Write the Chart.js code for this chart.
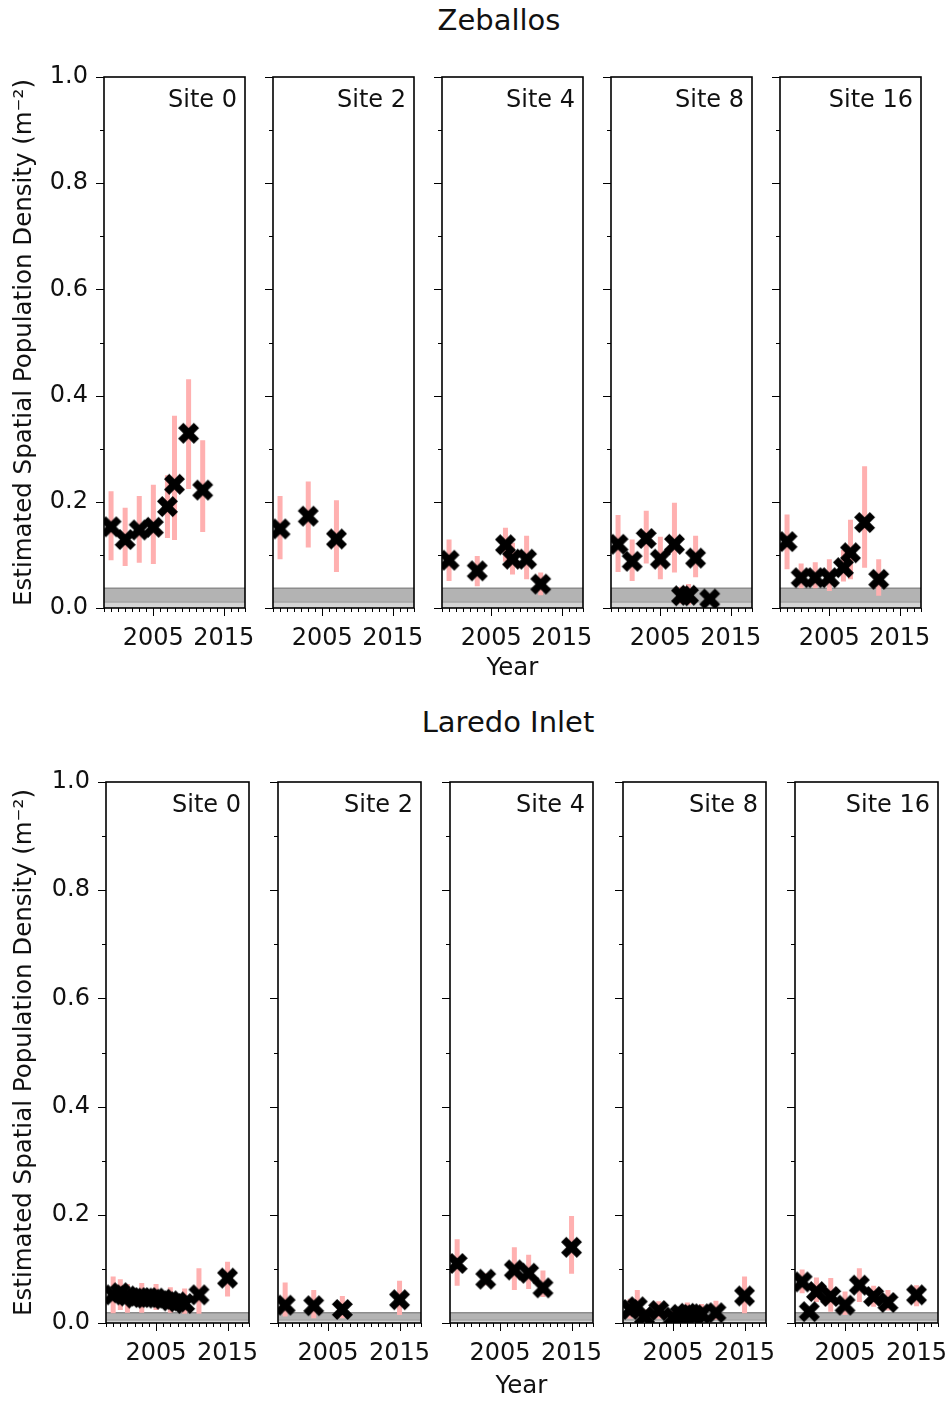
<!DOCTYPE html>
<html>
<head>
<meta charset="utf-8">
<script src="https://cdn.jsdelivr.net/npm/chart.js@4.4.1/dist/chart.umd.min.js"></script>
<style>
  body { margin: 0; background: #fff; }
  #page { position: relative; width: 948px; height: 1401px; overflow: hidden; }
  .title { position: absolute; font: 29px "DejaVu Sans"; line-height: 34px; text-align: center; color: #111; }
  canvas { position: absolute; }
</style>
</head>
<body>
<div id="page">
  <div class="title" style="left:0; width:998px; top:3px;">Zeballos</div>
  <div class="title" style="left:0; width:1016px; top:705px;">Laredo Inlet</div>
</div>
<script>
// Axis ranges and tick labels
const xMin = 1998, xMax = 2018;
const xTickLabels = [2005, 2015];
const yTickLabels = ['0.0', '0.2', '0.4', '0.6', '0.8', '1.0'];
const siteLabels = ['Site 0', 'Site 2', 'Site 4', 'Site 8', 'Site 16'];
const regionNames = ['Zeballos', 'Laredo Inlet'];

// Zeballos
const zeb0Years = [1999, 2001, 2003, 2005, 2007, 2008, 2010, 2012];
const zeb0Density = [0.153, 0.129, 0.147, 0.152, 0.191, 0.233, 0.329, 0.222];
const zeb0Low = [0.090, 0.079, 0.085, 0.083, 0.132, 0.128, 0.224, 0.143];
const zeb0High = [0.220, 0.189, 0.211, 0.232, 0.250, 0.362, 0.431, 0.316];

const zeb2Years = [1999, 2003, 2007];
const zeb2Density = [0.149, 0.173, 0.130];
const zeb2Low = [0.092, 0.114, 0.068];
const zeb2High = [0.211, 0.238, 0.203];

const zeb4Years = [1999, 2003, 2007, 2008, 2010, 2012];
const zeb4Density = [0.090, 0.070, 0.119, 0.092, 0.092, 0.045];
const zeb4Low = [0.051, 0.041, 0.087, 0.063, 0.054, 0.024];
const zeb4High = [0.129, 0.098, 0.151, 0.123, 0.136, 0.067];

const zeb8Years = [1999, 2001, 2003, 2005, 2007, 2008, 2009, 2010, 2012];
const zeb8Density = [0.120, 0.088, 0.131, 0.092, 0.120, 0.023, 0.024, 0.094, 0.017];
const zeb8Low = [0.068, 0.051, 0.084, 0.054, 0.067, 0.008, 0.006, 0.058, 0.008];
const zeb8High = [0.175, 0.129, 0.183, 0.134, 0.198, 0.040, 0.045, 0.136, 0.027];

const zeb16Years = [1999, 2001, 2003, 2005, 2007, 2008, 2010, 2012];
const zeb16Density = [0.125, 0.057, 0.057, 0.057, 0.076, 0.104, 0.161, 0.054];
const zeb16Low = [0.073, 0.037, 0.037, 0.032, 0.050, 0.054, 0.076, 0.023];
const zeb16High = [0.176, 0.084, 0.086, 0.092, 0.109, 0.166, 0.267, 0.092];

// Laredo Inlet
const lar0Years = [1999, 2000, 2001, 2002, 2003, 2004, 2005, 2006, 2007, 2008, 2009, 2011, 2015];
const lar0Density = [0.052, 0.056, 0.050, 0.046, 0.047, 0.047, 0.046, 0.044, 0.041, 0.039, 0.036, 0.052, 0.083];
const lar0Low = [0.018, 0.024, 0.019, 0.036, 0.019, 0.037, 0.024, 0.034, 0.019, 0.030, 0.017, 0.017, 0.049];
const lar0High = [0.086, 0.081, 0.072, 0.056, 0.074, 0.058, 0.072, 0.054, 0.066, 0.048, 0.064, 0.101, 0.113];

const lar2Years = [1999, 2003, 2007, 2015];
const lar2Density = [0.033, 0.032, 0.025, 0.043];
const lar2Low = [0.012, 0.009, 0.009, 0.015];
const lar2High = [0.075, 0.061, 0.050, 0.078];

const lar4Years = [1999, 2003, 2007, 2009, 2011, 2015];
const lar4Density = [0.110, 0.081, 0.098, 0.092, 0.065, 0.140];
const lar4Low = [0.069, 0.070, 0.061, 0.063, 0.048, 0.091];
const lar4High = [0.155, 0.092, 0.140, 0.126, 0.097, 0.198];

const lar8Years = [1999, 2000, 2001, 2003, 2005, 2006, 2007, 2008, 2009, 2011, 2015];
const lar8Density = [0.025, 0.030, 0.012, 0.023, 0.011, 0.016, 0.018, 0.015, 0.017, 0.019, 0.050];
const lar8Low = [0.008, 0.012, 0.003, 0.008, 0.003, 0.005, 0.004, 0.005, 0.005, 0.006, 0.018];
const lar8High = [0.045, 0.061, 0.025, 0.040, 0.022, 0.028, 0.038, 0.028, 0.035, 0.041, 0.086];

const lar16Years = [1999, 2000, 2001, 2003, 2005, 2007, 2009, 2011, 2015];
const lar16Density = [0.076, 0.021, 0.058, 0.049, 0.033, 0.070, 0.049, 0.038, 0.052];
const lar16Low = [0.055, 0.012, 0.039, 0.021, 0.015, 0.039, 0.030, 0.023, 0.031];
const lar16High = [0.099, 0.030, 0.084, 0.083, 0.058, 0.101, 0.069, 0.061, 0.070];

// gray detection band per region: [inner line, top]
const zebBand = [0.012, 0.037];
const larBand = [0.006, 0.019];

// Layout of the two rows of panels
const rows = [
  { top: 77, bottom: 608, lefts: [104, 273, 442, 611, 780], width: 141, band: zebBand, yTitlePad: 6, xTitlePad: 5,
    series: [[zeb0Years, zeb0Density, zeb0Low, zeb0High], [zeb2Years, zeb2Density, zeb2Low, zeb2High],
             [zeb4Years, zeb4Density, zeb4Low, zeb4High], [zeb8Years, zeb8Density, zeb8Low, zeb8High],
             [zeb16Years, zeb16Density, zeb16Low, zeb16High]] },
  { top: 782, bottom: 1323, lefts: [106, 278, 450, 623, 795], width: 143, band: larBand, yTitlePad: 4, xTitlePad: 2,
    series: [[lar0Years, lar0Density, lar0Low, lar0High], [lar2Years, lar2Density, lar2Low, lar2High],
             [lar4Years, lar4Density, lar4Low, lar4High], [lar8Years, lar8Density, lar8Low, lar8High],
             [lar16Years, lar16Density, lar16Low, lar16High]] }
];

const AXIS_W = 100, AXIS_H = 80, PAD_T = 18, PAD_R = 16;
const FONT = '"DejaVu Sans"';
Chart.defaults.font.family = FONT;
Chart.defaults.color = '#111';

// matplotlib-like filled "X" marker
function makeMarker(size) {
  const c = document.createElement('canvas');
  c.width = size + 2; c.height = size + 2;
  const g = c.getContext('2d');
  const pts = [[-1,-2],[0,-1],[1,-2],[2,-1],[1,0],[2,1],[1,2],[0,1],[-1,2],[-2,1],[-1,0],[-2,-1]];
  const s = size / 4, cx = c.width / 2, cy = c.height / 2;
  g.beginPath();
  pts.forEach((p, i) => i ? g.lineTo(cx + p[0] * s, cy + p[1] * s) : g.moveTo(cx + p[0] * s, cy + p[1] * s));
  g.closePath();
  g.fillStyle = '#000';
  g.fill();
  return c;
}
const marker = makeMarker(21);

function errorSegments(years, low, high) {
  const pts = [];
  years.forEach((yr, i) => {
    pts.push({ x: yr, y: low[i] }, { x: yr, y: high[i] }, { x: yr, y: null });
  });
  return pts;
}

// keep the chart area exactly where the panel belongs
function fixBox(s, size) {
  if (s.isHorizontal()) s.height = size; else s.width = size;
  s.paddingTop = 0; s.paddingBottom = 0; s.paddingLeft = 0; s.paddingRight = 0;
}

// frame, ticks and site label
const panelFrame = {
  id: 'panelFrame',
  afterDraw(chart, args, opts) {
    const { ctx, chartArea: a, scales: { x, y } } = chart;
    ctx.save();
    ctx.strokeStyle = '#000';
    ctx.lineWidth = 1;
    ctx.beginPath();
    for (let yr = xMin; yr <= xMax; yr++) {
      const px = Math.round(x.getPixelForValue(yr)) + 0.5;
      const len = xTickLabels.includes(yr) ? 8 : 4;
      ctx.moveTo(px, a.bottom); ctx.lineTo(px, a.bottom + len);
    }
    for (let i = 0; i <= 10; i++) {
      const py = Math.round(y.getPixelForValue(i / 10)) + 0.5;
      const len = i % 2 === 0 ? 8 : 4;
      ctx.moveTo(a.left, py); ctx.lineTo(a.left - len, py);
    }
    ctx.stroke();
    ctx.lineWidth = 1.6;
    ctx.strokeRect(a.left, a.top, a.right - a.left, a.bottom - a.top);
    ctx.font = '24px ' + FONT;
    ctx.fillStyle = '#111';
    ctx.textAlign = 'right';
    ctx.textBaseline = 'middle';
    ctx.fillText(opts.site, a.right - 8, a.top + 24);
    ctx.restore();
  }
};

const page = document.getElementById('page');

rows.forEach((row, r) => {
  const panelH = row.bottom - row.top;
  row.lefts.forEach((left, p) => {
    const [years, dens, low, high] = row.series[p];
    const canvas = document.createElement('canvas');
    const W = AXIS_W + row.width + PAD_R, H = PAD_T + panelH + AXIS_H;
    canvas.width = W; canvas.height = H;
    canvas.style.left = (left - AXIS_W) + 'px';
    canvas.style.top = (row.top - PAD_T) + 'px';
    page.appendChild(canvas);

    new Chart(canvas, {
      type: 'scatter',
      data: {
        datasets: [
          { data: years.map((yr, i) => ({ x: yr, y: dens[i] })), pointStyle: marker, pointRadius: 10, order: 0 },
          { data: errorSegments(years, low, high), showLine: true, borderColor: '#ffb0b0', borderWidth: 5,
            borderCapStyle: 'butt', pointRadius: 0, spanGaps: false, order: 1 },
          { data: [{ x: xMin, y: row.band[1] }, { x: xMax, y: row.band[1] }], showLine: true, pointRadius: 0,
            borderColor: '#8c8c8c', borderWidth: 1.5, fill: '+1', backgroundColor: '#b3b3b3', order: 2 },
          { data: [{ x: xMin, y: row.band[0] }, { x: xMax, y: row.band[0] }], showLine: true, pointRadius: 0,
            borderColor: '#8c8c8c', borderWidth: 1.5, fill: 'origin', backgroundColor: '#d4d4d4', order: 3 }
        ]
      },
      options: {
        responsive: false,
        animation: false,
        events: [],
        layout: { padding: { top: PAD_T, right: PAD_R, left: 0, bottom: 0 } },
        plugins: { legend: { display: false }, tooltip: { enabled: false }, panelFrame: { site: siteLabels[p] } },
        scales: {
          x: {
            type: 'linear', min: xMin, max: xMax,
            grid: { display: false, drawTicks: false }, border: { display: false },
            ticks: { stepSize: 1, autoSkip: false, maxRotation: 0, padding: 16, font: { size: 24 },
              callback: v => xTickLabels.includes(v) ? String(v) : '' },
            title: { display: p === 2, text: 'Year', font: { size: 24.5 }, padding: { top: 0, bottom: row.xTitlePad } },
            afterFit: s => fixBox(s, AXIS_H)
          },
          y: {
            min: 0, max: 1,
            grid: { display: false, drawTicks: false }, border: { display: false },
            ticks: { stepSize: 0.1, autoSkip: false, padding: 16, font: { size: 24 },
              callback: v => {
                const i = Math.round(v * 10);
                return p === 0 && i % 2 === 0 ? yTickLabels[i / 2] : '';
              } },
            title: { display: p === 0, text: 'Estimated Spatial Population Density (m⁻²)', font: { size: 24.5 },
              padding: { top: row.yTitlePad, bottom: 0 } },
            afterFit: s => fixBox(s, AXIS_W)
          }
        }
      },
      plugins: [panelFrame]
    });
  });
});
</script>
</body>
</html>
